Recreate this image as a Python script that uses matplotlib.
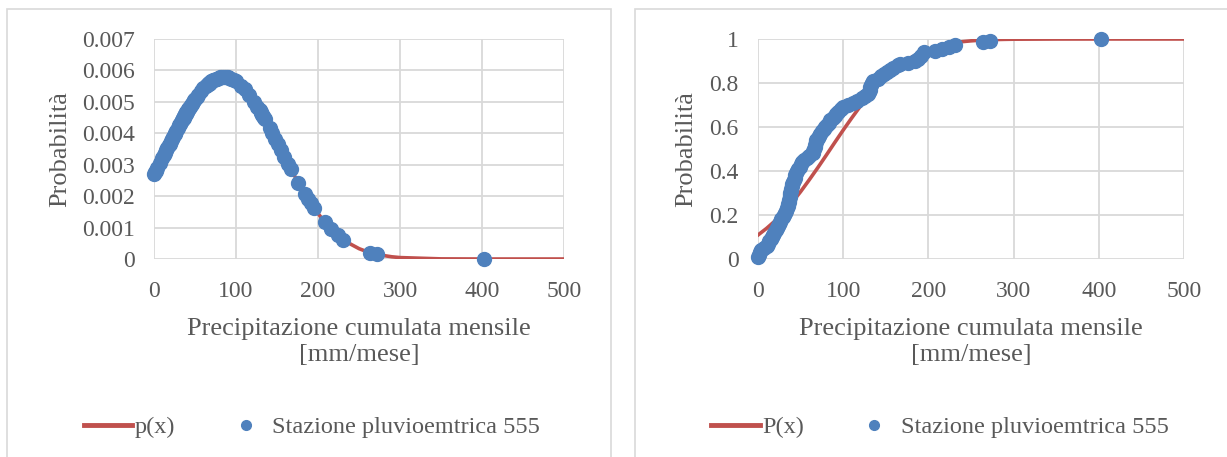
import matplotlib.pyplot as plt
from matplotlib.patches import Rectangle

W, H = 1227, 457
plt.rcParams['font.family'] = ['Liberation Serif', 'DejaVu Serif']

GREY_TXT = '#595959'
GRID = '#d9d9d9'
RED = '#c0504d'
BLUE = '#4f81bd'

# curva teorica (normale)
curve_x = [0, 10, 20, 30, 40, 50, 60, 70, 80, 90, 100, 110, 120, 130, 140,
           150, 160, 170, 180, 190, 200, 210, 220, 230, 240, 250, 260, 270,
           280, 290, 300, 350, 400, 450, 500]
pdf_curve = [0.00271, 0.00321, 0.00372, 0.00422, 0.00469, 0.00510, 0.00543,
             0.00566, 0.00578, 0.00578, 0.00566, 0.00543, 0.00510, 0.00469,
             0.00422, 0.00372, 0.00321, 0.00271, 0.00225, 0.00182, 0.00145,
             0.00112, 0.00086, 0.00064, 0.00047, 0.00033, 0.00023, 0.00016,
             0.00011, 0.00007, 0.000045, 0.000004, 0.0, 0.0, 0.0]
cdf_curve = [0.109, 0.139, 0.173, 0.213, 0.257, 0.306, 0.359, 0.414, 0.471,
             0.529, 0.586, 0.641, 0.694, 0.743, 0.787, 0.827, 0.861, 0.891,
             0.916, 0.936, 0.952, 0.965, 0.975, 0.982, 0.988, 0.9916, 0.9944,
             0.9963, 0.9976, 0.9985, 0.9991, 0.9999, 1.0, 1.0, 1.0]

# stazione pluviometrica 555
obs_x = [0, 1, 2, 4, 7, 10, 12, 13, 15, 16, 18, 19, 21, 22, 23, 25, 26, 27,
         29, 31, 32, 33, 34, 35, 35.5, 36, 36.5, 37, 37.5, 38, 38.5, 39, 39.5,
         40, 41, 42, 43, 44, 45, 46, 47, 49, 50, 52, 54, 57, 60, 64, 65, 66,
         66.5, 67, 67.5, 68, 70, 72, 73, 75, 77, 79, 81, 83, 85, 88, 90, 92,
         94, 97, 100, 106, 111, 116, 122, 126, 129, 130, 131, 132, 133, 134,
         135, 141, 144, 148, 151, 155, 159, 164, 167, 176, 184, 188, 191, 195,
         208, 216, 224, 231, 264, 272, 402]
obs_pdf = [0.00271, 0.00276, 0.00281, 0.00291, 0.00306, 0.00321, 0.00331,
           0.00336, 0.00346, 0.00352, 0.00362, 0.00367, 0.00377, 0.00382,
           0.00387, 0.00397, 0.00402, 0.00407, 0.00417, 0.00427, 0.00431,
           0.00436, 0.00441, 0.00446, 0.00448, 0.00450, 0.00453, 0.00455,
           0.00457, 0.00460, 0.00462, 0.00464, 0.00467, 0.00469, 0.00473,
           0.00477, 0.00481, 0.00485, 0.00490, 0.00494, 0.00498, 0.00506,
           0.00510, 0.00517, 0.00523, 0.00533, 0.00543, 0.00552, 0.00555,
           0.00557, 0.00558, 0.00559, 0.00560, 0.00561, 0.00566, 0.00568,
           0.00570, 0.00572, 0.00574, 0.00577, 0.00578, 0.00579, 0.00580,
           0.00579, 0.00578, 0.00576, 0.00573, 0.00570, 0.00566, 0.00552,
           0.00540, 0.00523, 0.00498, 0.00485, 0.00473, 0.00469, 0.00464,
           0.00459, 0.00455, 0.00450, 0.00446, 0.00417, 0.00402, 0.00382,
           0.00367, 0.00346, 0.00326, 0.00301, 0.00286, 0.00243, 0.00208,
           0.00191, 0.00178, 0.00163, 0.00119, 0.00096, 0.00077, 0.00062,
           0.00020, 0.00015, 0.0]
obs_cdf = [0.010, 0.020, 0.030, 0.040, 0.050, 0.060, 0.070, 0.080, 0.090,
           0.100, 0.110, 0.120, 0.130, 0.140, 0.150, 0.160, 0.170, 0.180,
           0.190, 0.200, 0.210, 0.220, 0.230, 0.240, 0.250, 0.260, 0.270,
           0.280, 0.290, 0.300, 0.310, 0.320, 0.330, 0.340, 0.350, 0.360,
           0.370, 0.380, 0.390, 0.400, 0.410, 0.420, 0.430, 0.440, 0.450,
           0.460, 0.470, 0.480, 0.490, 0.500, 0.510, 0.520, 0.530, 0.540,
           0.550, 0.560, 0.570, 0.580, 0.590, 0.600, 0.610, 0.620, 0.630,
           0.640, 0.650, 0.660, 0.670, 0.680, 0.690, 0.700, 0.710, 0.720,
           0.730, 0.740, 0.750, 0.760, 0.770, 0.780, 0.790, 0.800, 0.810,
           0.820, 0.830, 0.840, 0.850, 0.860, 0.870, 0.880, 0.885, 0.890,
           0.900, 0.910, 0.925, 0.940, 0.945, 0.955, 0.965, 0.975, 0.985,
           0.990, 1.000]

x_ticks = [0, 100, 200, 300, 400, 500]
pdf_ticks = [0, 0.001, 0.002, 0.003, 0.004, 0.005, 0.006, 0.007]
pdf_tick_labels = ['0', '0.001', '0.002', '0.003', '0.004', '0.005', '0.006',
                   '0.007']
cdf_ticks = [0, 0.2, 0.4, 0.6, 0.8, 1.0]
cdf_tick_labels = ['0', '0.2', '0.4', '0.6', '0.8', '1']

x_title = 'Precipitazione cumulata mensile\n[mm/mese]'
y_title = 'Probabilità'
station_name = 'Stazione pluvioemtrica 555'

fig = plt.figure(figsize=(W / 100, H / 100), dpi=100)


def px_axes(left, right, top, bottom):
    return fig.add_axes([left / W, 1 - bottom / H, (right - left) / W,
                         (bottom - top) / H])


def panel_box(left, right, top):
    fig.add_artist(Rectangle((left / W, -0.2), (right - left) / W,
                             1.2 - top / H, transform=fig.transFigure,
                             fill=False, ec=GRID, lw=1.2))


def style(ax, yticks, ylabels):
    ax.set_xlim(0, 500)
    ax.set_ylim(yticks[0], yticks[-1])
    ax.set_xticks(x_ticks)
    ax.set_yticks(yticks)
    ax.set_yticklabels(ylabels)
    ax.grid(color=GRID, lw=1.3)
    ax.set_axisbelow(True)
    for s in ax.spines.values():
        s.set_visible(False)
    ax.tick_params(length=0, labelsize=17, labelcolor=GREY_TXT)
    ax.tick_params(axis='x', pad=16)
    ax.tick_params(axis='y', pad=14)


def draw_panel(ax, curve_y, obs_y, curve_name, yticks, ylabels,
               ylab_x, panel_cx):
    style(ax, yticks, ylabels)
    ax.plot(curve_x, curve_y, color=RED, lw=2.6, label=curve_name, zorder=2)
    ax.plot(obs_x, obs_y, ls='none', marker='o', ms=10, color=BLUE,
            label=station_name, zorder=3, clip_on=False)
    bb = ax.get_position()
    cx = (bb.x0 + bb.x1) / 2
    fig.text(cx, 1 - 342 / H, x_title, ha='center', va='center',
             fontsize=19, color=GREY_TXT, linespacing=1.2)
    fig.text(ylab_x / W, 1 - 149 / H, y_title, rotation=90, ha='center',
             va='center', fontsize=19, color=GREY_TXT)
    leg = ax.legend(loc='center', bbox_to_anchor=(panel_cx / W, 1 - 427 / H),
                    bbox_transform=fig.transFigure, ncol=2, frameon=False,
                    fontsize=17.5, handlelength=2.0, handletextpad=0.1,
                    columnspacing=1.9, labelcolor=GREY_TXT, markerscale=0.7)
    leg.get_lines()[0].set_linewidth(3.5)


panel_box(7, 611, 9)
panel_box(635, 1239, 9)

ax1 = px_axes(154, 564, 39, 259)
draw_panel(ax1, pdf_curve, obs_pdf, 'p(x)', pdf_ticks, pdf_tick_labels,
           60, 312)

ax2 = px_axes(758, 1184, 39, 259)
draw_panel(ax2, cdf_curve, obs_cdf, 'P(x)', cdf_ticks, cdf_tick_labels,
           686, 940)

fig.savefig('out.png', dpi=100)
